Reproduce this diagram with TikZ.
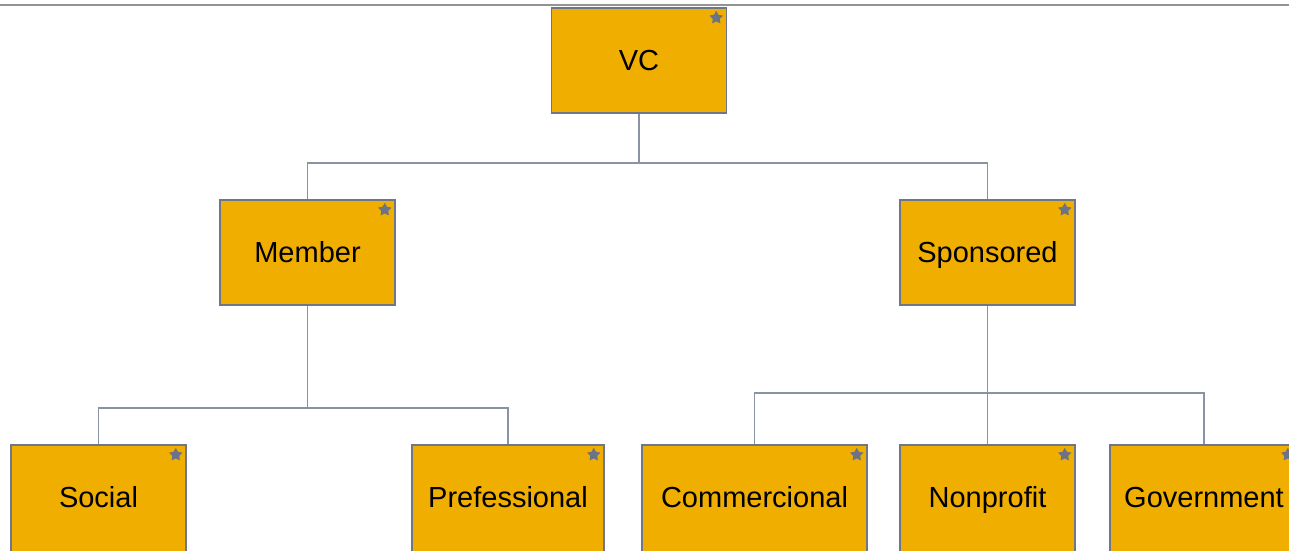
\documentclass[tikz,border=0pt]{standalone}
\usepackage{fontspec}
\setmainfont{Liberation Sans}
\usetikzlibrary{shapes.geometric,calc}
\definecolor{boxfill}{HTML}{F0AE00}
\definecolor{boxline}{HTML}{6E7688}
\definecolor{conncol}{HTML}{8A92A6}
\definecolor{starcol}{HTML}{6B7385}
\tikzset{
  orgbox/.style={draw=boxline, line width=1.5pt, fill=boxfill, minimum height=105pt, inner sep=0pt,
    font=\fontsize{29}{34}\selectfont, text=black, text height=25pt, text depth=6pt},
  lowbox/.style={orgbox, minimum height=111pt, text depth=12pt},
  conn/.style={draw=conncol, line width=1.4pt},
  badge/.style={star, star points=5, star point ratio=1.9, fill=starcol, draw=none, minimum size=14pt, inner sep=0pt}
}
\begin{document}
\begin{tikzpicture}[x=1pt,y=-1pt]
\useasboundingbox (0,0) rectangle (1289,550);
\fill[white] (0,0) rectangle (1289,550);
\draw[draw=gray!85, line width=2pt] (0,5) -- (1289,5);

\node[orgbox, minimum width=175pt] (vc) at (639,60.5) {VC};
\node[orgbox, minimum width=175pt] (member) at (307.5,252.5) {Member};
\node[orgbox, minimum width=175pt] (sponsored) at (987.5,252.5) {Sponsored};
\node[lowbox, minimum width=175pt] (social) at (98.5,500.5) {Social};
\node[lowbox, minimum width=192pt] (prof) at (508,500.5) {Prefessional};
\node[lowbox, minimum width=225pt] (comm) at (754.5,500.5) {Commercional};
\node[lowbox, minimum width=175pt] (nonprofit) at (987.5,500.5) {Nonprofit};
\node[lowbox, minimum width=188pt] (gov) at (1204,500.5) {Government};

\foreach \b/\s in {vc/s1,member/s2,sponsored/s3,social/s4,prof/s5,comm/s6,nonprofit/s7,gov/s8}{
  \node[badge] (\s) at ($(\b.north east)+(-11,10.5)$) {};
}

\coordinate (j1) at (639,163);
\coordinate (j2) at (307.5,408);
\coordinate (j3) at (987.5,393);

\draw[conn] (vc.south) -- (j1);
\draw[conn] (member.north) |- (j1) -| (sponsored.north);
\draw[conn] (member.south) -- (j2);
\draw[conn] (social.north) |- (j2) -| (prof.north);
\draw[conn] (sponsored.south) -- (nonprofit.north);
\draw[conn] (comm.north) |- (j3) -| (gov.north);
\end{tikzpicture}
\end{document}
